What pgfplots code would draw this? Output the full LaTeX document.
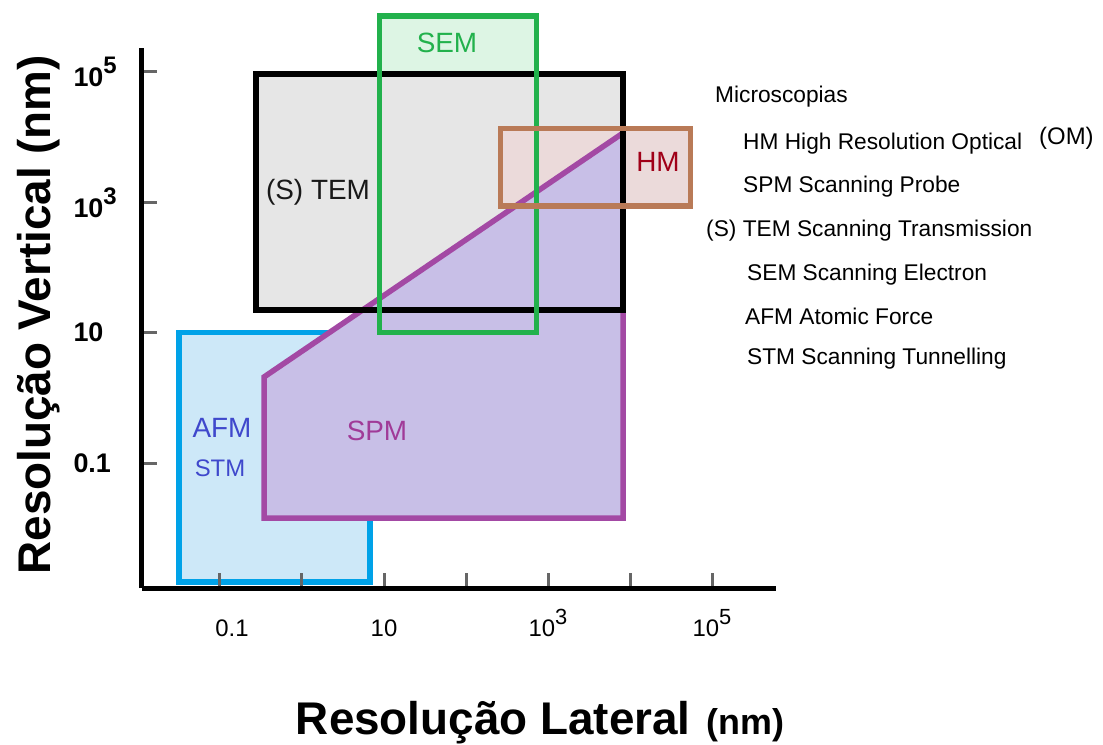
\documentclass[border=0pt]{standalone}
\usepackage{pgfplots}
\pgfplotsset{compat=1.18}
\usepackage{fontspec}
\setmainfont{Liberation Sans}
\definecolor{bluestroke}{HTML}{00A2E8}
\definecolor{bluefill}{HTML}{CDE8F8}
\definecolor{temfill}{HTML}{E6E6E6}
\definecolor{semstroke}{HTML}{22B14C}
\definecolor{semfill}{HTML}{DDF5E4}
\definecolor{hmstroke}{HTML}{B97A57}
\definecolor{hmfill}{HTML}{EBDADA}
\definecolor{spmstroke}{HTML}{A349A4}
\definecolor{spmfill}{HTML}{C8BFE7}
\definecolor{hmtext}{HTML}{A00018}
\definecolor{afmtext}{HTML}{3F48CC}
\definecolor{spmtext}{HTML}{A03A98}
\newcommand{\fs}[1]{\fontsize{#1}{#1}\selectfont}
\newcommand{\sps}[3]{\raisebox{#1}{\fs{#2}#3}}
\begin{document}
\begin{tikzpicture}
\path[use as bounding box] (-142bp,-157bp) rectangle (961bp,588bp);
\begin{axis}[
  at={(0bp,0bp)}, anchor=south west,
  scale only axis, width=634bp, height=540bp,
  xmode=log, ymode=log,
  xmin=0.011194, xmax=602560, ymin=0.0012078, ymax=233346,
  axis x line=bottom, axis y line=left,
  axis line style={-, line width=5bp, black},
  clip=false, axis on top,
  xtick={0.1,1,10,100,1000,10000,100000},
  xticklabels={{\hspace{24bp}0.1},{},{10},{},{10\sps{12bp}{22}{3}},{},{10\sps{12bp}{22}{5}}},
  ytick={0.1,10,1000,100000},
  yticklabels={{0.1},{10},{10\sps{13bp}{24}{3}},{10\sps{13bp}{24}{5}}},
  xminorticks=false, yminorticks=false,
  tick align=inside, major tick length=15bp,
  every tick/.style={line width=3bp, color=black!60},
  xticklabel style={font=\fs{24}, anchor=base, yshift=-48bp},
  yticklabel style={font=\bfseries\fs{27}, anchor=west, xshift=-72bp},
  xlabel={\bfseries\fs{46}Resolução Lateral\hspace{16bp}\fs{36}(nm)},
  xlabel style={at={(axis description cs:0.628,-0.272)}, anchor=base},
  ylabel={\bfseries\fs{46}Resolução Vertical (nm)},
  ylabel style={at={(axis description cs:-0.145,0.506)}, anchor=base},
  line join=miter,
]
% AFM / STM
\addplot[draw=bluestroke, fill=bluefill, line width=5.5bp] coordinates {(0.0316,0.00149) (0.0316,10) (6.76,10) (6.76,0.00149)} -- cycle;
% SEM fill
\addplot[draw=none, fill=semfill] coordinates {(8.81,10) (8.81,722770) (724.4,722770) (724.4,10)} -- cycle;
% TEM fill
\addplot[draw=none, fill=temfill] coordinates {(0.2748,22.28) (0.2748,93325) (8222,93325) (8222,22.28)} -- cycle;
% HM fill
\addplot[draw=none, fill=hmfill] coordinates {(263,879) (263,13583) (54954,13583) (54954,879)} -- cycle;
% SPM
\addplot[draw=spmstroke, fill=spmfill, line width=5.5bp] coordinates {(0.3443,0.01432) (0.3443,2.089) (8222,11588) (8222,0.01432)} -- cycle;
% outlines
\addplot[draw=black, line width=5.5bp] coordinates {(0.2748,22.28) (0.2748,93325) (8222,93325) (8222,22.28)} -- cycle;
\addplot[draw=semstroke, line width=5.5bp] coordinates {(8.81,10) (8.81,722770) (724.4,722770) (724.4,10)} -- cycle;
\addplot[draw=hmstroke, line width=5.5bp] coordinates {(263,879) (263,13583) (54954,13583) (54954,879)} -- cycle;
\end{axis}
% region labels
\node[inner sep=0, text=semstroke, font=\fs{28}] at (305bp,545bp) {SEM};
\node[inner sep=0, text=black!90, font=\fs{28}] at (176bp,396bp) {(S) TEM};
\node[inner sep=0, text=hmtext, font=\fs{28}] at (516bp,426bp) {HM};
\node[inner sep=0, text=afmtext, font=\fs{28}] at (80bp,160bp) {AFM};
\node[inner sep=0, text=afmtext, font=\fs{24}] at (78bp,120bp) {STM};
\node[inner sep=0, text=spmtext, font=\fs{28}] at (235bp,157bp) {SPM};
% key text
\begin{scope}[every node/.style={inner sep=0, anchor=base west, font=\fs{22.8}}]
\node at (573bp,485bp) {Microscopias};
\node at (601bp,438bp) {HM High Resolution Optical};
\node[font=\fs{24}] at (897bp,443bp) {(OM)};
\node at (601bp,395bp) {SPM Scanning Probe};
\node at (564bp,351bp) {(S) TEM Scanning Transmission};
\node at (605bp,307bp) {SEM Scanning Electron};
\node at (603bp,263bp) {AFM Atomic Force};
\node at (605bp,223bp) {STM Scanning Tunnelling};
\end{scope}
\end{tikzpicture}
\end{document}
